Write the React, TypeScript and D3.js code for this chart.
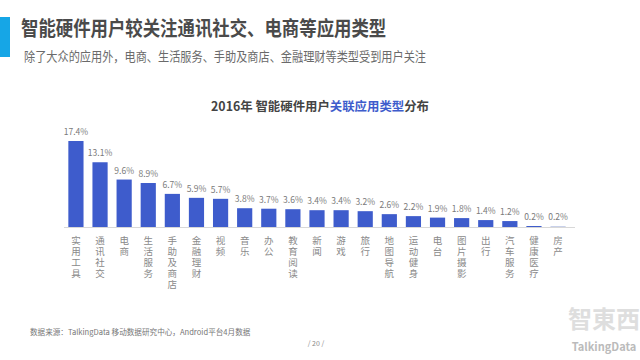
import React from "react";
import * as d3 from "d3";

const categories = ["实用工具", "通讯社交", "电商", "生活服务", "手助及商店", "金融理财", "视频", "音乐", "办公", "教育阅读", "新闻", "游戏", "旅行", "地图导航", "运动健身", "电台", "图片摄影", "出行", "汽车服务", "健康医疗", "房产"];
const values = [17.4, 13.1, 9.6, 8.9, 6.7, 5.9, 5.7, 3.8, 3.7, 3.6, 3.4, 3.4, 3.2, 2.6, 2.2, 1.9, 1.8, 1.4, 1.2, 0.2, 0.2];

const W = 640, H = 360;
const FONT = "'Noto Sans CJK SC', 'Noto Sans', sans-serif";

export default function App() {
  const x = d3.scaleBand<string>().domain(categories).range([64, 570]).paddingInner(0.37).paddingOuter(0.18);
  const baseline = 227;
  const y = d3.scaleLinear().domain([0, 17.4]).range([baseline, 141]);
  const blue = "#3e5ccc";
  return (
    <div style={{ position: "absolute", left: 0, top: 0 }}>
      <svg width={W} height={H} style={{ display: "block", background: "#fff" }} fontFamily={FONT}>
        <rect x={0} y={17} width={10} height={40} fill="#16a6e6" />
        <g transform="translate(21,36) scale(0.87,1)">
          <text x={0} y={0} fontSize={20} fontWeight="bold" fill="#4a4a4a">智能硬件用户较关注通讯社交、电商等应用类型</text>
        </g>
        <g transform="translate(24,61) scale(0.86,1)">
          <text x={0} y={0} fontSize={13} fill="#6a6a6a">除了大众的应用外，电商、生活服务、手助及商店、金融理财等类型受到用户关注</text>
        </g>
        <text x={320} y={111} fontSize={12.4} fontWeight="bold" textAnchor="middle" fill="#444">
          2016年 智能硬件用户<tspan fill="#3e5ccc">关联应用类型</tspan>分布
        </text>
        <line x1={64} x2={575} y1={baseline + 0.5} y2={baseline + 0.5} stroke="#d8d8d8" strokeWidth={1} />
        {categories.map((c, i) => {
          const v = values[i];
          const bx = x(c)!;
          const bw = x.bandwidth();
          const top = y(v);
          const cx = bx + bw / 2;
          const last = i === categories.length - 1;
          return (
            <g key={c}>
              <rect x={bx} y={top} width={bw} height={Math.max(baseline - top, 1)} fill={last ? "#c9d1ea" : blue} />
              <text x={cx} y={top - 6} fontSize={8.5} textAnchor="middle" fill="#7a7a7a">{v.toFixed(1)}%</text>
              <text x={cx} y={236} fontSize={9.5} letterSpacing={1.5} fill="#8a8a8a" style={{ writingMode: "vertical-rl" }}>{c}</text>
            </g>
          );
        })}
        <text x={30} y={335} fontSize={7.6} fill="#777">数据来源：TalkingData 移动数据研究中心，Android平台4月数据</text>
        <text x={316} y={346} fontSize={7} textAnchor="middle" fill="#888">/ 20 /</text>
        <text x={604} y={328} fontSize={24} textAnchor="middle" fill="#dedede" fontWeight="bold">智東西</text>
        <text x={604} y={351} fontSize={11} textAnchor="middle" fill="#bbb" fontWeight="bold">TalkingData</text>
      </svg>
    </div>
  );
}
